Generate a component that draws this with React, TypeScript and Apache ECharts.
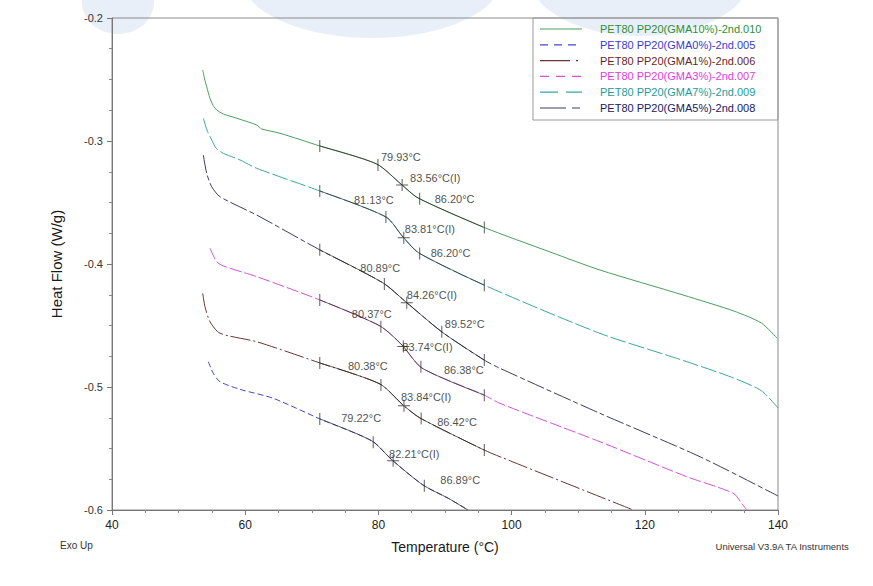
import React, { useEffect, useRef } from "react";
import * as echarts from "echarts";

// ---------- data (temperature °C, heat flow W/g) ----------
const gma10: [number, number][] = [
  [53.62, -0.2423], [53.9, -0.2495], [54.22, -0.2559], [54.71, -0.2653], [55.2, -0.2712], [55.72, -0.2748], [56.71, -0.278],
  [58.72, -0.2815], [61.73, -0.287], [62.48, -0.2902], [65.23, -0.2937], [71.23, -0.3041],
  [79.74, -0.3187], [83.39, -0.335], [85.95, -0.3463], [95.71, -0.3699], [105.77, -0.3902],
  [113.27, -0.4049], [125.74, -0.4252], [133.5, -0.4385], [137.5, -0.4480], [139.9, -0.4605],
];
const gma7: [number, number][] = [
  [53.71, -0.2815], [54.26, -0.2911], [54.97, -0.2992], [55.62, -0.3057], [56.71, -0.31],
  [59.22, -0.3154], [61.73, -0.3222], [71.23, -0.3407], [81.14, -0.3618], [83.69, -0.378],
  [86.1, -0.3911], [95.86, -0.4171], [113.27, -0.4564], [124.79, -0.4767], [133.0, -0.4920],
  [137.5, -0.5030], [140, -0.5171],
];
const gma5: [number, number][] = [
  [53.71, -0.3114], [54.22, -0.3263], [54.97, -0.3372], [56.22, -0.3453], [61.73, -0.3602],
  [71.23, -0.3886], [80.69, -0.4154], [84.14, -0.4309], [89.55, -0.4553], [95.86, -0.478],
  [98.26, -0.4848], [113.27, -0.5214], [128.29, -0.5567], [140, -0.5886],
];
const gma3: [number, number][] = [
  [54.71, -0.3872], [55.72, -0.3981], [56.71, -0.4016], [61.73, -0.4103], [71.23, -0.4293],
  [80.24, -0.4504], [83.54, -0.4659], [86.55, -0.4846], [95.86, -0.5065], [98.26, -0.5133],
  [113.27, -0.5445], [126.29, -0.5729], [133.29, -0.5864], [134.55, -0.5946], [135.3, -0.6],
];
const gma1: [number, number][] = [
  [53.62, -0.4238], [53.96, -0.4347], [54.71, -0.4469], [56.22, -0.4563], [61.73, -0.4632],
  [71.23, -0.4805], [80.24, -0.4976], [83.69, -0.5146], [86.25, -0.5252], [95.86, -0.5512],
  [98.26, -0.5567], [118.27, -0.6],
];
const gma0: [number, number][] = [
  [54.46, -0.4794], [55.21, -0.4889], [56.22, -0.4957], [59.22, -0.5019], [64.22, -0.5092],
  [71.23, -0.526], [79.04, -0.5439], [82.04, -0.5593], [86.7, -0.5797], [90.5, -0.5905],
  [93.45, -0.6],
];

// glass transition analysis: onset, inflection (I), end (°C)
const gma10Temps = [79.93, 83.56, 86.2];
const gma7Temps = [81.13, 83.81, 86.2];
const gma5Temps = [80.89, 84.26, 89.52];
const gma3Temps = [80.37, 83.74, 86.38];
const gma1Temps = [80.38, 83.84, 86.42];
const gma0Temps = [79.22, 82.21, 86.89];
const analysisLimits = [71.2, 95.9];

const seriesNames = [
  "PET80 PP20(GMA10%)-2nd.010",
  "PET80 PP20(GMA0%)-2nd.005",
  "PET80 PP20(GMA1%)-2nd.006",
  "PET80 PP20(GMA3%)-2nd.007",
  "PET80 PP20(GMA7%)-2nd.009",
  "PET80 PP20(GMA5%)-2nd.008",
];

const xTicks = [40, 60, 80, 100, 120, 140];
const yTicks = [-0.6, -0.5, -0.4, -0.3, -0.2];

// ---------- styling ----------
const FONT = "'Liberation Sans', Arial, sans-serif";

function yAt(curve: [number, number][], x: number): number | null {
  for (let i = 0; i < curve.length - 1; i++) {
    const [x0, y0] = curve[i];
    const [x1, y1] = curve[i + 1];
    if (x >= x0 && x <= x1) return y0 + ((y1 - y0) * (x - x0)) / (x1 - x0);
  }
  return null;
}

const curves = [
  { name: seriesNames[0], data: gma10, temps: gma10Temps, color: "#4a9e5c", text: "#2f8f3a", dash: null as any,
    offsets: [[3, -8], [8, -7], [15, 0]] },
  { name: seriesNames[4], data: gma7, temps: gma7Temps, color: "#3aa7a0", text: "#1f9a9a", dash: [16, 3] as any,
    offsets: [[-32, -17], [1, -9], [11, 0]] },
  { name: seriesNames[5], data: gma5, temps: gma5Temps, color: "#3c3c62", text: "#202060", dash: [18, 3, 5, 3] as any,
    offsets: [[-24, -16], [0, -8], [3, -8]] },
  { name: seriesNames[3], data: gma3, temps: gma3Temps, color: "#d452d4", text: "#e03ee0", dash: [12, 3] as any,
    offsets: [[-29, -13], [-1, 0], [23, 3]] },
  { name: seriesNames[2], data: gma1, temps: gma1Temps, color: "#6a3434", text: "#6b1f1f", dash: [20, 3, 2, 3] as any,
    offsets: [[-33, -19], [-3, -9], [16, 3]] },
  { name: seriesNames[1], data: gma0, temps: gma0Temps, color: "#4646c4", text: "#3a3ad0", dash: [6, 3] as any,
    offsets: [[-32, -24], [-4, -7], [16, -6]] },
];

// legend sample dash patterns (as drawn in the legend box)
const legendDash: Record<string, number[] | null> = {
  [seriesNames[0]]: null,
  [seriesNames[1]]: [8, 6],
  [seriesNames[2]]: [30, 6, 2, 6],
  [seriesNames[3]]: [9, 7],
  [seriesNames[4]]: [18, 8],
  [seriesNames[5]]: [26, 6, 8, 6],
};

const CROSS = "path://M0,5.5H12V6.5H0ZM5.5,0H6.5V12H5.5Z";
const SMOOTH = 0.25;

export default function App() {
  const ref = useRef<HTMLDivElement>(null);
  useEffect(() => {
    if (!ref.current) return;
    const chart = echarts.init(ref.current, null, { renderer: "svg" });

    const series: any[] = [];
    curves.forEach((c) => {
      series.push({
        name: c.name,
        type: "line",
        data: c.data,
        symbol: "none",
        showSymbol: false,
        smooth: SMOOTH,
        lineStyle: { color: c.color, width: 1, type: c.dash || "solid" },
        itemStyle: { color: c.color },
        z: 2,
        silent: true,
      });
    });
    curves.forEach((c, i) => {
      series.push({
        name: "analysis" + i,
        type: "line",
        data: c.data.filter((p) => p[0] >= analysisLimits[0] && p[0] <= analysisLimits[1]),
        symbol: "none",
        showSymbol: false,
        smooth: SMOOTH,
        lineStyle: { color: "#2a2a2a", width: 1, opacity: 0.75 },
        z: 3,
        silent: true,
      });
    });
    curves.forEach((c, i) => {
      const marks: any[] = [];
      analysisLimits.forEach((t) => {
        const y = yAt(c.data, t);
        if (y !== null) marks.push({ value: [t, y], symbol: "rect", symbolSize: [1, 12] });
      });
      c.temps.forEach((t, k) => {
        const y = yAt(c.data, t);
        if (y === null) return;
        marks.push({
          value: [t, y],
          symbol: k === 1 ? CROSS : "rect",
          symbolSize: k === 1 ? [12, 12] : [1, 12],
          label: {
            show: true,
            position: "inside",
            align: "left",
            verticalAlign: "middle",
            offset: c.offsets[k],
            formatter: t.toFixed(2) + "°C" + (k === 1 ? "(I)" : ""),
            color: "#222",
            fontSize: 11,
            fontFamily: FONT,
          },
        });
      });
      series.push({
        name: "marks" + i,
        type: "scatter",
        data: marks,
        itemStyle: { color: "#333" },
        z: 4,
        silent: true,
      });
    });

    // hand-drawn legend (line samples + coloured texts)
    const legendGraphics: any[] = [];
    seriesNames.forEach((n, i) => {
      const c = curves.find((cc) => cc.name === n)!;
      const y = 29 + i * 15.8;
      legendGraphics.push({
        type: "line",
        shape: { x1: 540, y1: y, x2: 582, y2: y },
        style: { stroke: c.color, lineWidth: 1.2, lineDash: legendDash[n] || undefined },
        z: 6,
        silent: true,
      });
      legendGraphics.push({
        type: "text",
        x: 600,
        y: y,
        style: {
          text: n,
          fill: c.text,
          fontSize: 11,
          fontFamily: FONT,
          verticalAlign: "middle",
          textVerticalAlign: "middle",
        },
        z: 6,
        silent: true,
      });
    });

    const option: any = {
      animation: false,
      backgroundColor: "#ffffff",
      textStyle: { fontFamily: FONT },
      grid: { left: 112, right: 95, top: 18, bottom: 76, show: true, borderColor: "#8a8a8a", borderWidth: 1 },
      xAxis: {
        type: "value",
        min: xTicks[0],
        max: xTicks[xTicks.length - 1],
        interval: 20,
        name: "Temperature (°C)",
        nameLocation: "middle",
        nameGap: 30,
        nameTextStyle: { fontSize: 14, color: "#1a1a1a", fontFamily: FONT },
        axisLine: { lineStyle: { color: "#777", width: 1 } },
        axisTick: { show: true, length: 5, lineStyle: { color: "#777" } },
        minorTick: { show: true, splitNumber: 4, length: 3, lineStyle: { color: "#888" } },
        axisLabel: { fontSize: 12, color: "#222", margin: 9, fontFamily: FONT },
        splitLine: { show: false },
      },
      yAxis: {
        type: "value",
        min: yTicks[0],
        max: yTicks[yTicks.length - 1],
        interval: 0.1,
        name: "Heat Flow (W/g)",
        nameLocation: "middle",
        nameRotate: 90,
        nameGap: 48,
        nameTextStyle: { fontSize: 15, color: "#1a1a1a", fontFamily: FONT },
        axisLine: { show: true, lineStyle: { color: "#777", width: 1 } },
        axisTick: { show: true, length: 5, lineStyle: { color: "#777" } },
        minorTick: { show: true, splitNumber: 4, length: 3, lineStyle: { color: "#888" } },
        axisLabel: {
          fontSize: 11,
          color: "#333",
          margin: 9,
          fontFamily: FONT,
          formatter: (v: number) => v.toFixed(1),
        },
        splitLine: { show: false },
      },
      graphic: [
        { type: "ellipse", shape: { cx: 118, cy: 2, rx: 36, ry: 32 }, style: { fill: "#e8eff8" }, z: -10, silent: true },
        { type: "ellipse", shape: { cx: 372, cy: -22, rx: 130, ry: 60 }, style: { fill: "#e8eff8" }, z: -10, silent: true },
        { type: "ellipse", shape: { cx: 640, cy: -26, rx: 112, ry: 62 }, style: { fill: "#e8eff8" }, z: -10, silent: true },
        {
          type: "rect",
          shape: { x: 533, y: 18, width: 245, height: 102 },
          style: { fill: "none", stroke: "#9a9a9a", lineWidth: 1 },
          z: 5,
          silent: true,
        },
        ...legendGraphics,
        {
          type: "text",
          left: 60,
          top: 540,
          style: { text: "Exo Up", fontSize: 10, fill: "#333", fontFamily: FONT },
        },
        {
          type: "text",
          right: 23,
          top: 541,
          style: { text: "Universal V3.9A TA Instruments", fontSize: 9.5, fill: "#333", fontFamily: FONT },
        },
      ],
      series,
    };

    chart.setOption(option);
    return () => chart.dispose();
  }, []);

  return (
    <div
      ref={ref}
      style={{ position: "fixed", left: 0, top: 0, width: 873, height: 586, background: "#fff" }}
    />
  );
}
